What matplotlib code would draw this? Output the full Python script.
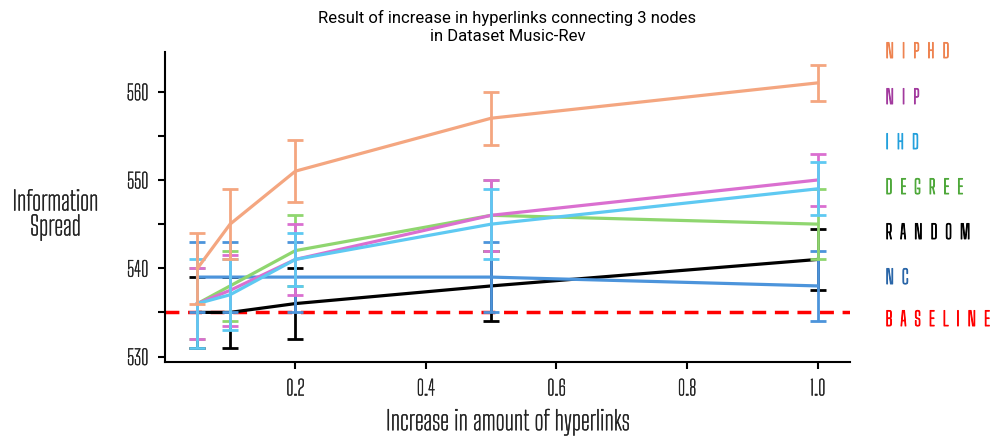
import matplotlib
matplotlib.use('Agg')
import matplotlib.pyplot as plt
import matplotlib.patheffects as pe
from matplotlib import font_manager
import numpy as np

# pick a narrow, squarish font for axis text if one is installed
names = {f.name for f in font_manager.fontManager.ttflist}
narrow = next((n for n in ['Saira Extra Condensed', 'Big Shoulders Text', 'Pathway Gothic One',
                           'Oswald', 'Liberation Sans Narrow'] if n in names), 'DejaVu Sans')
title_font = 'Roboto' if 'Roboto' in names else 'DejaVu Sans'

x = [0.05, 0.1, 0.2, 0.5, 1.0]
baseline = 535

niphd = [540, 545, 551, 557, 561]
niphd_err = [4, 4, 3.5, 3, 2]
nip = [536, 537.5, 541, 546, 550]
nip_err = [4, 4, 4, 4, 3]
ihd = [536, 537, 541, 545, 549]
ihd_err = [5, 4, 3, 4, 3]
degree = [536, 538, 542, 546, 545]
degree_err = [4, 4, 4, 4, 4]
random_ = [535, 535, 536, 538, 541]
random_err = [4, 4, 4, 4, 3.5]
nc = [539, 539, 539, 539, 538]
nc_err = [4, 4, 4, 4, 4]

labels = ['NIPHD', 'NIP', 'IHD', 'DEGREE', 'RANDOM', 'NC']
values = [niphd, nip, ihd, degree, random_, nc]
errors = [niphd_err, nip_err, ihd_err, degree_err, random_err, nc_err]
line_colors = ['#F4A680', '#DA6FD0', '#5EC9F2', '#8FD66F', '#000000', '#4C94DB']
text_colors = ['#EE8350', '#A23A9E', '#23A0DC', '#4EA83A', '#000000', '#2A66A8']
zorders = [8, 6, 7, 5, 3, 4]

fig = plt.figure(figsize=(10.05, 4.37), dpi=100)
ax = fig.add_axes([0.164, 0.172, 0.682, 0.709])

ax.axhline(baseline, color='#FF0000', lw=2.5, ls=(0, (4, 2.5)), zorder=2)
for y, err, col, z in zip(values, errors, line_colors, zorders):
    ax.errorbar(x, y, yerr=err, color=col, lw=2.3, elinewidth=2,
                capsize=5.5, capthick=2, zorder=z)

thick = [pe.withStroke(linewidth=0.3, foreground='#222222')]

ax.set_xlim(0, 1.05)
ax.set_ylim(529.4, 564.5)
ax.set_xticks([0.2, 0.4, 0.6, 0.8, 1.0])
ax.set_xticklabels(['0.2', '0.4', '0.6', '0.8', '1.0'], family=narrow, fontsize=15,
                   color='#222222', path_effects=thick)
ax.set_yticks([530, 540, 550, 560])
ax.set_yticklabels(['530', '540', '550', '560'], family=narrow, fontsize=15,
                   color='#222222', path_effects=thick)
ax.set_yticks([535, 545, 555], minor=True)
ax.tick_params(which='both', direction='out', length=5, width=1.5, pad=7)
ax.spines['top'].set_visible(False)
ax.spines['right'].set_visible(False)
ax.spines['left'].set_linewidth(1.5)
ax.spines['bottom'].set_linewidth(1.5)

ax.set_title('Result of increase in hyperlinks connecting 3 nodes\nin Dataset Music-Rev',
             fontsize=12, family=title_font, pad=8)
ax.set_xlabel('Increase in amount of hyperlinks', family=narrow, fontsize=19, labelpad=7,
              color='#222222', path_effects=thick)
fig.text(0.055, 0.508, 'Information\nSpread', ha='center', va='center', color='#222222',
         family=narrow, fontsize=19, linespacing=0.95, path_effects=thick)

# right-hand labels, letter-spaced
label_y = [52, 98, 143, 188, 233, 278]
for name, tcol, py in zip(labels, text_colors, label_y):
    fig.text(0.881, 1 - py / 437, '  '.join(name), color=tcol, family=narrow, fontsize=14,
             va='center', path_effects=[pe.withStroke(linewidth=0.7, foreground=tcol)])
fig.text(0.881, 1 - 320 / 437, '  '.join('BASELINE'), color='#FF0000', family=narrow,
         fontsize=14, va='center',
         path_effects=[pe.withStroke(linewidth=0.7, foreground='#FF0000')])

fig.savefig('out.png', dpi=100)
